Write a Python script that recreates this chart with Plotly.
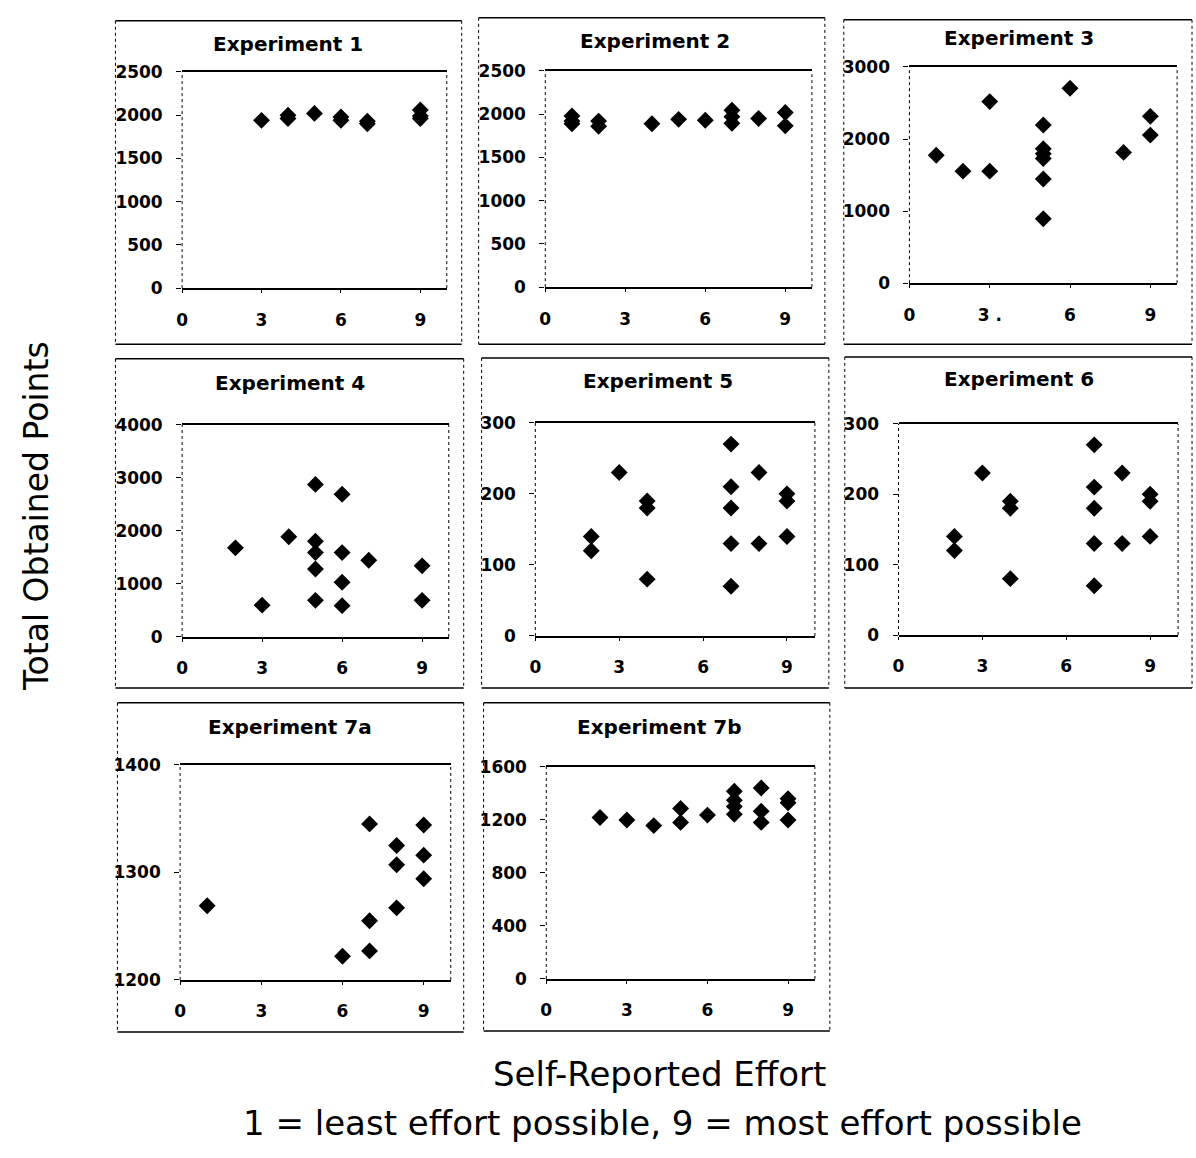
import plotly.graph_objects as go

W, H = 1196, 1158

# ---------------- data ----------------
exp1_effort = [3, 4, 4, 5, 6, 6, 7, 7, 9, 9, 9]
exp1_points = [1940, 1960, 2000, 2020, 1940, 1980, 1900, 1930, 2060, 1990, 1960]

exp2_effort = [1, 1, 1, 2, 2, 4, 5, 6, 7, 7, 7, 8, 9, 9]
exp2_points = [1980, 1920, 1890, 1920, 1860, 1890, 1940, 1930, 2045, 1970, 1895, 1950, 2020, 1865]

exp3_effort = [1, 2, 3, 3, 5, 5, 5, 5, 5, 5, 6, 8, 9, 9]
exp3_points = [1775, 1555, 2520, 1555, 2195, 1865, 1795, 1730, 1445, 895, 2705, 1815, 2315, 2055]

exp4_effort = [2, 3, 4, 5, 5, 5, 5, 5, 6, 6, 6, 6, 7, 9, 9]
exp4_points = [1680, 600, 1890, 2875, 1805, 1590, 1280, 690, 2690, 1590, 1030, 590, 1445, 1340, 690]

exp5_effort = [2, 2, 3, 4, 4, 4, 7, 7, 7, 7, 7, 8, 8, 9, 9, 9]
exp5_points = [140, 120, 230, 190, 180, 80, 270, 210, 180, 130, 70, 230, 130, 200, 190, 140]

exp6_effort = [2, 2, 3, 4, 4, 4, 7, 7, 7, 7, 7, 8, 8, 9, 9, 9]
exp6_points = [140, 120, 230, 190, 180, 80, 270, 210, 180, 130, 70, 230, 130, 200, 190, 140]

exp7a_effort = [1, 6, 7, 7, 7, 8, 8, 8, 9, 9, 9]
exp7a_points = [1269, 1222, 1345, 1255, 1227, 1325, 1307, 1267, 1344, 1316, 1294]

exp7b_effort = [2, 3, 4, 5, 5, 6, 7, 7, 7, 7, 8, 8, 8, 9, 9, 9]
exp7b_points = [1217, 1198, 1156, 1285, 1180, 1235, 1415, 1348, 1300, 1242, 1440, 1265, 1180, 1358, 1328, 1198]

titles = ["Experiment 1", "Experiment 2", "Experiment 3", "Experiment 4",
          "Experiment 5", "Experiment 6", "Experiment 7a", "Experiment 7b"]
x_tickvals = [0, 3, 6, 9]
x_ticktext = ["0", "3", "6", "9"]
x_ticktext_exp3 = ["0", "3 .", "6", "9"]
y_ranges = [[0, 2500], [0, 2500], [0, 3000], [0, 4000], [0, 300], [0, 300], [1200, 1400], [0, 1600]]
y_dticks = [500, 500, 1000, 1000, 100, 100, 100, 400]
x_title = "Self-Reported Effort"
x_subtitle = "1 = least effort possible, 9 = most effort possible"
y_title = "Total Obtained Points"

series = [(exp1_effort, exp1_points), (exp2_effort, exp2_points), (exp3_effort, exp3_points),
          (exp4_effort, exp4_points), (exp5_effort, exp5_points), (exp6_effort, exp6_points),
          (exp7a_effort, exp7a_points), (exp7b_effort, exp7b_points)]

# ---------------- layout geometry (pixels) ----------------
plot_boxes = [  # x0, x1, y0(top), y1(bottom)
    (177, 443, 63, 283), (542, 810, 62, 282), (908, 1177, 58, 278),
    (177, 445, 422, 638), (532, 813, 420, 637), (897, 1178, 421, 636),
    (175, 447, 768, 987), (543, 813, 770, 986),
]
outer_boxes = [
    (110, 458, 11, 340), (475, 823, 8, 340), (842, 1192, 10, 340),
    (110, 460, 355, 690), (478, 827, 354, 690), (843, 1192, 353, 690),
    (112, 460, 705, 1040), (480, 828, 705, 1039),
]
title_pos = [(283, 35), (652, 32), (1018, 29), (285, 380), (655, 378), (1018, 375), (285, 730), (657, 730)]


def px(x):
    return x / W


def py(y):
    return 1 - y / H


fig = go.Figure()
shapes = []
annotations = []
tickfont = dict(family="DejaVu Sans", size=17, color="black", weight="bold")

for i, ((xs, ys), box) in enumerate(zip(series, plot_boxes), start=1):
    x0, x1, t, b = box
    sfx = "" if i == 1 else str(i)
    fig.add_trace(go.Scatter(
        x=xs, y=ys, mode="markers", xaxis="x" + sfx, yaxis="y" + sfx,
        marker=dict(symbol="diamond", size=13, color="black"), showlegend=False,
    ))
    fig.layout["xaxis" + sfx] = dict(
        domain=[px(x0), px(x1)], anchor="y" + sfx, range=[0, 10],
        tickvals=x_tickvals, ticktext=(x_ticktext_exp3 if i == 3 else x_ticktext),
        showline=True, mirror=True, linecolor="black", linewidth=2,
        ticks="outside", ticklen=3, tickcolor="black", ticklabelstandoff=12,
        showgrid=False, zeroline=False, tickfont=tickfont, fixedrange=True,
    )
    fig.layout["yaxis" + sfx] = dict(
        domain=[py(b), py(t)], anchor="x" + sfx, range=y_ranges[i - 1],
        dtick=y_dticks[i - 1], tick0=y_ranges[i - 1][0],
        showline=False, ticks="outside", ticklen=5, tickcolor="black",
        ticklabelstandoff=10, showgrid=False, zeroline=False, tickfont=tickfont,
        fixedrange=True,
    )
    for xd in (0, 1):
        shapes.append(dict(type="line", xref=f"x{sfx} domain", yref=f"y{sfx} domain",
                           x0=xd, x1=xd, y0=0, y1=1,
                           line=dict(color="black", width=1, dash="dot")))
    ox0, ox1, ot, ob = outer_boxes[i - 1]
    for yy in (ot, ob):
        shapes.append(dict(type="line", xref="paper", yref="paper",
                           x0=px(ox0), x1=px(ox1), y0=py(yy), y1=py(yy),
                           line=dict(color="black", width=1.5)))
    for xx in (ox0, ox1):
        shapes.append(dict(type="line", xref="paper", yref="paper",
                           x0=px(xx), x1=px(xx), y0=py(ot), y1=py(ob),
                           line=dict(color="black", width=1, dash="dot")))
    tx, ty = title_pos[i - 1]
    annotations.append(dict(text=titles[i - 1], x=px(tx), y=py(ty), xref="paper", yref="paper",
                            showarrow=False, xanchor="center", yanchor="middle",
                            font=dict(family="DejaVu Sans", size=20, color="black", weight="bold")))

annotations.append(dict(text=y_title, x=px(30), y=py(515), xref="paper", yref="paper",
                        showarrow=False, textangle=-90, xanchor="center", yanchor="middle",
                        font=dict(family="DejaVu Sans", size=33, color="black")))
annotations.append(dict(text=x_title, x=px(657), y=py(1083), xref="paper", yref="paper",
                        showarrow=False, xanchor="center", yanchor="middle",
                        font=dict(family="DejaVu Sans", size=34, color="black")))
annotations.append(dict(text=x_subtitle, x=px(660), y=py(1133), xref="paper", yref="paper",
                        showarrow=False, xanchor="center", yanchor="middle",
                        font=dict(family="DejaVu Sans", size=34, color="black")))

fig.update_layout(
    width=W, height=H, margin=dict(l=0, r=0, t=0, b=0),
    paper_bgcolor="white", plot_bgcolor="white",
    shapes=shapes, annotations=annotations, showlegend=False,
)

fig.write_html("out.html")
